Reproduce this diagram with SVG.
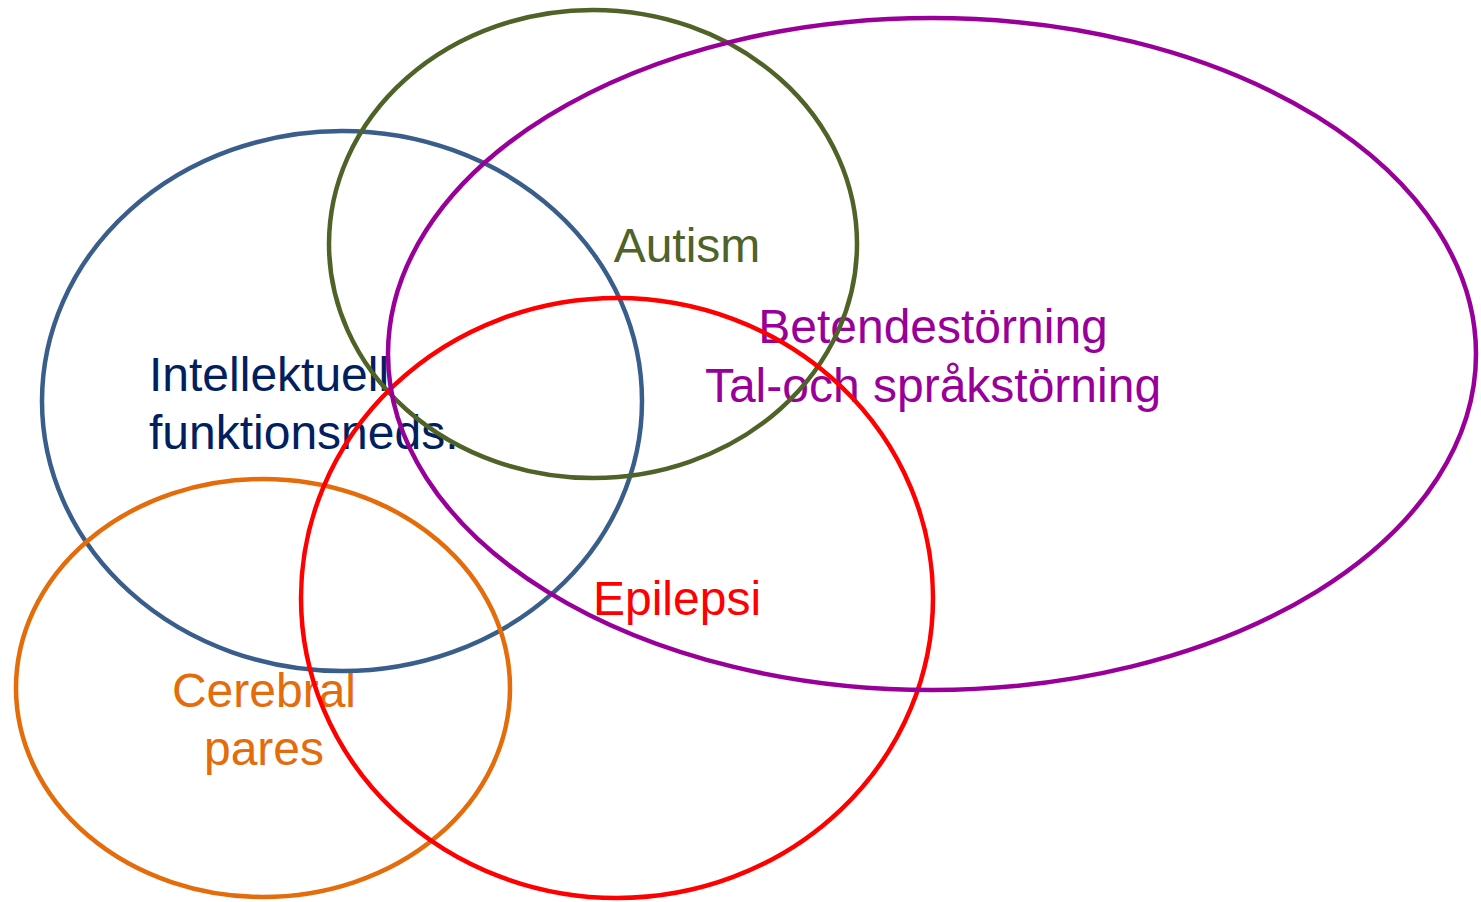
<svg xmlns="http://www.w3.org/2000/svg" width="1481" height="902" viewBox="0 0 1481 902">
<style>
text{font-family:"Liberation Sans",Arial,sans-serif;font-size:48px}
ellipse{fill:none;stroke-width:4.5}
</style>
<rect width="1481" height="902" fill="#fff"/>
<g id="labels">
<g id="intellektuell-label"><text x="149" y="391" fill="#002060">Intellektuell</text><text x="149" y="449" fill="#002060">funktionsneds.</text></g>
<g id="autism-label"><text x="687" y="262" text-anchor="middle" fill="#4F6228">Autism</text></g>
<g id="beteende-label"><text x="933" y="343" text-anchor="middle" fill="#990099">Betendestörning</text><text x="933" y="402" text-anchor="middle" fill="#990099">Tal-och språkstörning</text></g>
<g id="epilepsi-label"><text x="677" y="615" text-anchor="middle" fill="#FF0000">Epilepsi</text></g>
<g id="cp-label"><text x="264" y="707" text-anchor="middle" fill="#E46C0A">Cerebral</text><text x="264" y="765" text-anchor="middle" fill="#E46C0A">pares</text></g>
</g>
<g id="intellektuell"><ellipse cx="342" cy="401" rx="300" ry="270" stroke="#3A5E8C"/></g>
<g id="cp"><ellipse cx="263" cy="688" rx="247" ry="209" stroke="#E46C0A"/></g>
<g id="autism"><ellipse cx="593" cy="244" rx="264" ry="234" stroke="#4F6228"/></g>
<g id="epilepsi"><ellipse cx="617" cy="598" rx="316" ry="300" stroke="#FF0000"/></g>
<g id="beteende"><ellipse cx="932" cy="354" rx="544" ry="336" stroke="#990099"/></g>
<g id="connectors"></g>
</svg>
